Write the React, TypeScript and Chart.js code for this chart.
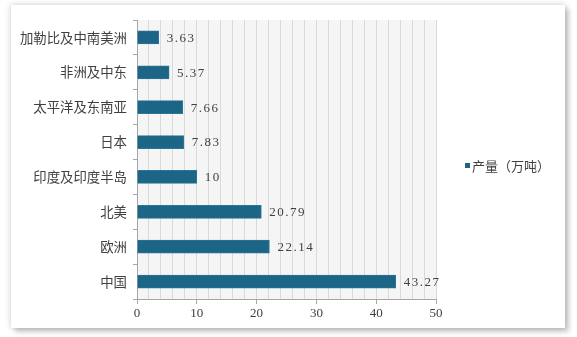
import React, { useEffect, useRef } from "react";
import { Chart, registerables } from "chart.js";

Chart.register(...registerables);

const categories = ["加勒比及中南美洲", "非洲及中东", "太平洋及东南亚", "日本", "印度及印度半岛", "北美", "欧洲", "中国"];
const values = [3.63, 5.37, 7.66, 7.83, 10, 20.79, 22.14, 43.27];
const seriesName = "产量（万吨）";
const xTicks = [0, 10, 20, 30, 40, 50];

const BAR = "#1d6586";
const CJK = "'Noto Sans CJK SC', 'Noto Sans', sans-serif";
const SERIF = "'Liberation Serif', 'DejaVu Serif', serif";

export default function App() {
  const ref = useRef<HTMLCanvasElement | null>(null);

  useEffect(() => {
    const canvas = ref.current;
    if (!canvas) return;

    const bgPlugin = {
      id: "plotBg",
      beforeDraw(chart: any) {
        const { ctx, chartArea } = chart;
        ctx.save();
        ctx.fillStyle = "#f5f5f5";
        ctx.fillRect(chartArea.left, chartArea.top, chartArea.right - chartArea.left, chartArea.bottom - chartArea.top);
        ctx.restore();
      },
    };

    const labelPlugin = {
      id: "valueLabels",
      afterDatasetsDraw(chart: any) {
        const { ctx } = chart;
        const meta = chart.getDatasetMeta(0);
        ctx.save();
        ctx.font = `13px ${SERIF}`;
        ctx.fillStyle = "#404040";
        ctx.textAlign = "left";
        ctx.textBaseline = "middle";
        try { (ctx as any).letterSpacing = "1.5px"; } catch (e) {}
        meta.data.forEach((bar: any, i: number) => {
          ctx.fillText(String(values[i]), bar.x + 8, bar.y + 1);
        });
        ctx.restore();
      },
    };

    const legendPlugin = {
      id: "customLegend",
      afterDraw(chart: any) {
        const { ctx } = chart;
        ctx.save();
        ctx.fillStyle = BAR;
        ctx.fillRect(465, 163, 5, 5);
        ctx.font = `13px ${CJK}`;
        ctx.fillStyle = "#404040";
        ctx.textAlign = "left";
        ctx.textBaseline = "middle";
        ctx.fillText(seriesName, 472, 166);
        ctx.restore();
      },
    };

    const chart = new Chart(canvas, {
      type: "bar",
      data: {
        labels: categories,
        datasets: [
          {
            label: seriesName,
            data: values,
            backgroundColor: BAR,
            borderColor: "#2b7598",
            borderWidth: 1,
            barThickness: 13,
          },
        ],
      },
      options: {
        indexAxis: "y",
        animation: false,
        responsive: false,
        devicePixelRatio: 1,
        layout: { padding: { left: 0, top: 20, right: 141, bottom: 0 } },
        plugins: {
          legend: { display: false },
          tooltip: { enabled: false },
        },
        scales: {
          x: {
            min: 0,
            max: 50,
            afterFit(scale: any) {
              scale.height = 38;
            },
            afterBuildTicks(scale: any) {
              const t: any[] = [];
              for (let v = 0; v <= 50; v += 2) t.push({ value: v });
              scale.ticks = t;
            },
            ticks: {
              autoSkip: false,
              maxRotation: 0,
              padding: 2,
              color: "#404040",
              font: { family: SERIF, size: 13 },
              callback: (v: any) => (xTicks.includes(Number(v)) ? String(v) : ""),
            },
            grid: {
              color: "#d9d9d9",
              lineWidth: 1,
              tickLength: 5,
              tickColor: (c: any) => (c.tick && xTicks.includes(c.tick.value) ? "#a6a6a6" : "rgba(0,0,0,0)"),
            },
            border: { color: "#a6a6a6" },
          },
          y: {
            afterFit(scale: any) {
              scale.width = 137;
            },
            ticks: {
              padding: 6,
              color: "#404040",
              font: { family: CJK, size: 13.4 },
            },
            grid: {
              offset: true,
              drawOnChartArea: false,
              tickLength: 4,
              tickColor: "#a6a6a6",
            },
            border: { color: "#a6a6a6" },
          },
        },
      },
      plugins: [bgPlugin, labelPlugin, legendPlugin],
    } as any);

    return () => chart.destroy();
  }, []);

  return (
    <div style={{ position: "fixed", left: 0, top: 0, width: 577, height: 337, background: "#ffffff", overflow: "hidden" }}>
      <div
        style={{
          position: "absolute",
          left: 11,
          top: 5,
          width: 554,
          height: 323,
          background: "#ffffff",
          boxShadow: "0 0 6px rgba(0,0,0,0.22), 4px 4px 5px rgba(0,0,0,0.18)",
        }}
      />
      <canvas ref={ref} width={577} height={337} style={{ position: "absolute", left: 0, top: 0, width: 577, height: 337 }} />
    </div>
  );
}
